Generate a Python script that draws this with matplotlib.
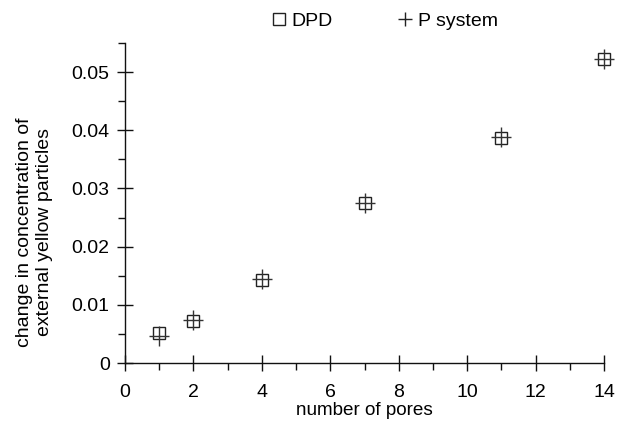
import matplotlib
matplotlib.use("Agg")
import matplotlib.pyplot as plt
from matplotlib.lines import Line2D
from matplotlib.ticker import MultipleLocator

plt.rcParams['font.family'] = ['Liberation Sans', 'DejaVu Sans']

pores = [1, 2, 4, 7, 11, 14]
dpd = [0.0052, 0.0072, 0.0143, 0.0275, 0.0387, 0.0522]
psys = [0.0046, 0.0074, 0.0144, 0.0275, 0.0388, 0.0523]

fig = plt.figure(figsize=(6.18, 4.26), dpi=100)
ax = fig.add_axes([125/618, 1-363/426, (604-125)/618, (363-43)/426])

ax.plot(pores, dpd, linestyle='none', marker='s', markersize=8.5,
        markerfacecolor='none', markeredgecolor='#222222', markeredgewidth=1.0, clip_on=False)
ax.plot(pores, psys, linestyle='none', marker='+', markersize=14.5,
        markeredgecolor='#333333', markeredgewidth=1.0, clip_on=False)

ax.set_xlim(0, 14)
ax.set_ylim(0, 0.055)
ax.xaxis.set_major_locator(MultipleLocator(2))
ax.xaxis.set_minor_locator(MultipleLocator(1))
ax.yaxis.set_minor_locator(MultipleLocator(0.005))
ax.set_yticks([0, 0.01, 0.02, 0.03, 0.04, 0.05])
ax.set_yticklabels(['0', '0.01', '0.02', '0.03', '0.04', '0.05'])

for s in ['top', 'right']:
    ax.spines[s].set_visible(False)
for s in ['left', 'bottom']:
    ax.spines[s].set_linewidth(1.0)
    ax.spines[s].set_color('#111111')

ax.tick_params(which='major', direction='inout', length=12, width=1.0, color='#111111',
               labelsize=14)
ax.tick_params(which='minor', direction='out', length=5, width=1.0, color='#111111')
ax.tick_params(axis='x', which='major', pad=9)
ax.tick_params(axis='y', which='major', pad=5)

ax.set_xlabel('number of pores', fontsize=13.6, labelpad=1)
ax.set_ylabel('change in concentration of\nexternal yellow particles', fontsize=14)
ax.yaxis.set_label_coords((53-125)/479, (363-232)/320)

handles = [
    Line2D([], [], linestyle='none', marker='s', markersize=8.5, markerfacecolor='none',
           markeredgecolor='#222222', markeredgewidth=1.0, label='DPD'),
    Line2D([], [], linestyle='none', marker='+', markersize=9.5, markeredgecolor='#222222',
           markeredgewidth=1.0, label='P system'),
]
fig.legend(handles=handles, loc='center', bbox_to_anchor=(384/618, 1-21/426), ncol=2,
           frameon=False, fontsize=14, handlelength=0.9, handletextpad=0.2,
           columnspacing=3.3)

fig.savefig('out.png', dpi=100, facecolor='white')
